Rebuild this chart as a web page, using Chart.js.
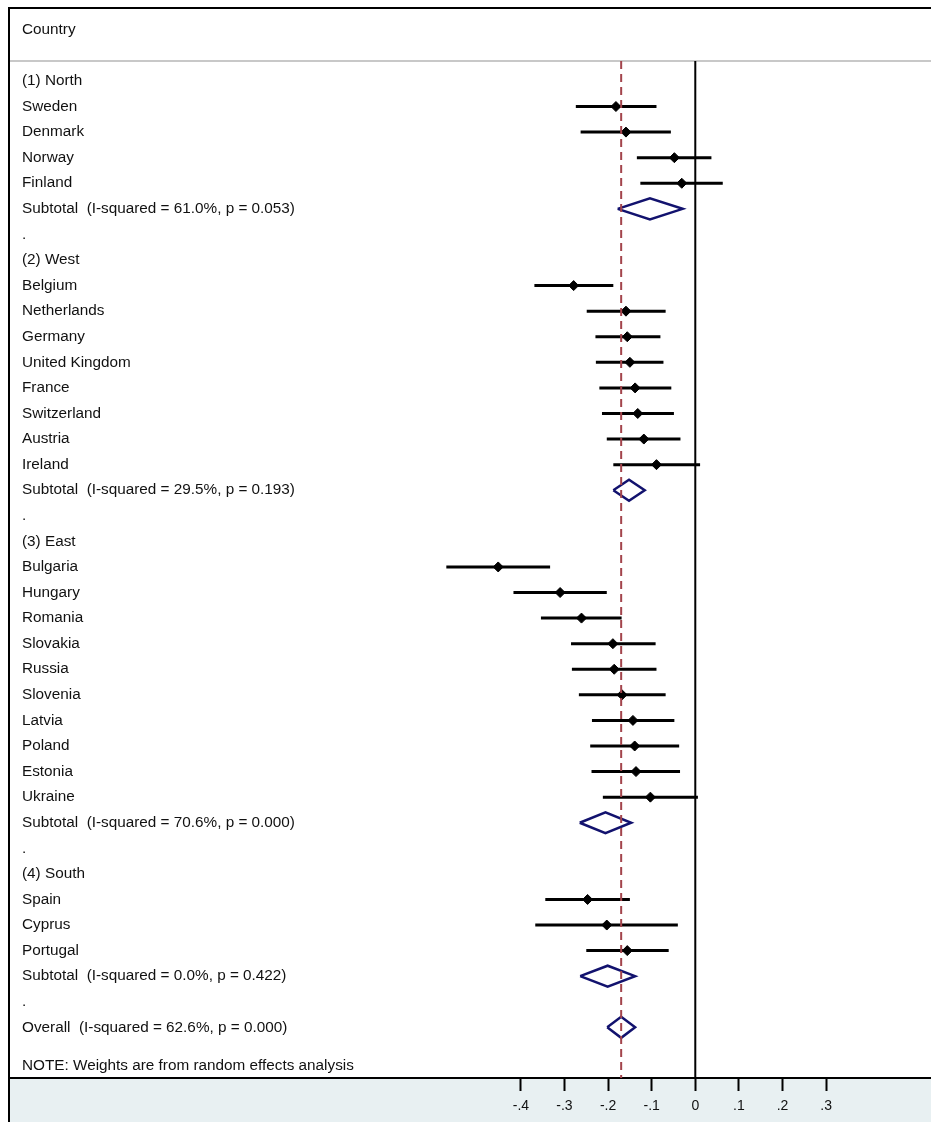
<!DOCTYPE html>
<html>
<head>
<meta charset="utf-8">
<script src="https://cdn.jsdelivr.net/npm/chart.js@4/dist/chart.umd.min.js"></script>
<style>
  body { margin: 0; background: #fff; }
  #wrap { width: 931px; height: 1122px; }
</style>
</head>
<body>
<div id="wrap"><canvas id="forestChart" width="931" height="1122"></canvas></div>
<script>
// Rows of the plot, top to bottom
const rowLabels = [
    '(1) North', 'Sweden', 'Denmark', 'Norway', 'Finland',
    'Subtotal  (I-squared = 61.0%, p = 0.053)', '.',
    '(2) West', 'Belgium', 'Netherlands', 'Germany', 'United Kingdom', 'France', 'Switzerland', 'Austria', 'Ireland',
    'Subtotal  (I-squared = 29.5%, p = 0.193)', '.',
    '(3) East', 'Bulgaria', 'Hungary', 'Romania', 'Slovakia', 'Russia', 'Slovenia', 'Latvia', 'Poland', 'Estonia', 'Ukraine',
    'Subtotal  (I-squared = 70.6%, p = 0.000)', '.',
    '(4) South', 'Spain', 'Cyprus', 'Portugal',
    'Subtotal  (I-squared = 0.0%, p = 0.422)', '.',
    'Overall  (I-squared = 62.6%, p = 0.000)'
];
const noteLabel = 'NOTE: Weights are from random effects analysis';

// Country estimates with 95% CI
const studyNames = ['Sweden', 'Denmark', 'Norway', 'Finland',
    'Belgium', 'Netherlands', 'Germany', 'United Kingdom', 'France', 'Switzerland', 'Austria', 'Ireland',
    'Bulgaria', 'Hungary', 'Romania', 'Slovakia', 'Russia', 'Slovenia', 'Latvia', 'Poland', 'Estonia', 'Ukraine',
    'Spain', 'Cyprus', 'Portugal'];
const studyEst = [-0.182, -0.159, -0.048, -0.031,
    -0.279, -0.159, -0.156, -0.150, -0.138, -0.132, -0.118, -0.089,
    -0.452, -0.310, -0.261, -0.189, -0.186, -0.168, -0.143, -0.139, -0.136, -0.103,
    -0.247, -0.203, -0.156];
const studyLo = [-0.274, -0.263, -0.134, -0.126,
    -0.369, -0.249, -0.229, -0.228, -0.220, -0.214, -0.203, -0.188,
    -0.571, -0.417, -0.354, -0.285, -0.283, -0.267, -0.237, -0.241, -0.238, -0.212,
    -0.344, -0.367, -0.250];
const studyHi = [-0.089, -0.056, 0.037, 0.063,
    -0.188, -0.068, -0.080, -0.073, -0.055, -0.049, -0.034, 0.011,
    -0.333, -0.203, -0.169, -0.091, -0.089, -0.068, -0.048, -0.037, -0.035, 0.006,
    -0.150, -0.040, -0.061];

// Pooled estimates (diamonds)
const pooledNames = [
    'Subtotal  (I-squared = 61.0%, p = 0.053)',
    'Subtotal  (I-squared = 29.5%, p = 0.193)',
    'Subtotal  (I-squared = 70.6%, p = 0.000)',
    'Subtotal  (I-squared = 0.0%, p = 0.422)',
    'Overall  (I-squared = 62.6%, p = 0.000)'
];
const pooledEst = [-0.104, -0.152, -0.206, -0.201, -0.170];
const pooledLo = [-0.178, -0.188, -0.265, -0.264, -0.202];
const pooledHi = [-0.029, -0.116, -0.147, -0.138, -0.138];

const xTicks = [-0.4, -0.3, -0.2, -0.1, 0, 0.1, 0.2, 0.3];

const X_MIN = -1.574, X_MAX = 0.5406;
const Y_MIN = -0.78, Y_MAX = 38.98;
const DIAMOND_HALF = 0.41; // half height of the pooled diamonds, in rows
const FONT = "'Liberation Sans', Arial, sans-serif";

const rowOf = name => rowLabels.indexOf(name);
const overallEst = pooledEst[pooledEst.length - 1];

// Build line data with gaps between segments
const ciData = [];
studyNames.forEach((name, i) => {
    const y = rowOf(name);
    ciData.push({ x: studyLo[i], y: y }, { x: studyHi[i], y: y }, { x: null, y: null });
});
const pointData = studyNames.map((name, i) => ({ x: studyEst[i], y: rowOf(name) }));
const diamondData = [];
pooledNames.forEach((name, i) => {
    const y = rowOf(name);
    diamondData.push(
        { x: pooledLo[i], y: y },
        { x: pooledEst[i], y: y - DIAMOND_HALF },
        { x: pooledHi[i], y: y },
        { x: pooledEst[i], y: y + DIAMOND_HALF },
        { x: pooledLo[i], y: y },
        { x: null, y: null }
    );
});

// Tick positions for the row labels
const rowTicks = rowLabels.map((_, i) => ({ value: i })).concat([{ value: 38.5 }]);
const labelFor = v => (v === 38.5 ? noteLabel : rowLabels[v]);

// Frame, header and bottom band
const framePlugin = {
    id: 'frame',
    beforeDraw(chart) {
        const { ctx, chartArea, width, height } = chart;
        ctx.save();
        ctx.fillStyle = '#ffffff';
        ctx.fillRect(0, 0, width, height);
        ctx.fillStyle = '#e8f0f2';
        ctx.fillRect(9, chartArea.bottom, width - 9, height - chartArea.bottom);
        ctx.strokeStyle = '#c8c8c8';
        ctx.lineWidth = 2;
        ctx.beginPath();
        ctx.moveTo(9, 61);
        ctx.lineTo(width, 61);
        ctx.stroke();
        ctx.strokeStyle = '#000';
        ctx.beginPath();
        ctx.moveTo(width, 8);
        ctx.lineTo(9, 8);
        ctx.lineTo(9, height);
        ctx.stroke();
        ctx.fillStyle = '#111';
        ctx.font = '15.3px ' + FONT;
        ctx.textBaseline = 'middle';
        ctx.fillText('Country', 22, 30);
        ctx.restore();
    }
};

const ctx = document.getElementById('forestChart').getContext('2d');
const chart = new Chart(ctx, {
    type: 'scatter',
    data: {
        datasets: [
            {
                label: 'Overall estimate',
                data: [{ x: overallEst, y: Y_MIN }, { x: overallEst, y: Y_MAX }],
                showLine: true,
                borderColor: '#a3444c',
                borderWidth: 2,
                borderDash: [8, 5],
                pointRadius: 0
            },
            {
                label: 'Estimates',
                data: pointData,
                pointStyle: 'rectRot',
                pointRadius: 5,
                backgroundColor: '#000',
                borderColor: '#000',
                borderWidth: 1
            },
            {
                label: 'CI',
                data: ciData,
                showLine: true,
                spanGaps: false,
                borderColor: '#000',
                borderWidth: 3,
                pointRadius: 0
            },
            {
                label: 'Pooled',
                data: diamondData,
                showLine: true,
                spanGaps: false,
                borderColor: '#12126e',
                borderWidth: 2.5,
                pointRadius: 0
            },
            {
                label: 'No effect',
                data: [{ x: 0, y: Y_MIN }, { x: 0, y: Y_MAX }],
                showLine: true,
                borderColor: '#000',
                borderWidth: 2,
                pointRadius: 0
            }
        ]
    },
    options: {
        responsive: false,
        animation: false,
        layout: { autoPadding: false, padding: { top: 61, left: 9, right: 0, bottom: 0 } },
        plugins: {
            legend: { display: false },
            tooltip: { enabled: false }
        },
        scales: {
            x: {
                type: 'linear',
                position: 'bottom',
                min: X_MIN,
                max: X_MAX,
                afterBuildTicks: scale => { scale.ticks = xTicks.map(v => ({ value: v })); },
                afterFit: scale => { scale.height = 44; },
                grid: {
                    drawOnChartArea: false,
                    drawTicks: true,
                    tickLength: 13,
                    tickColor: '#000',
                    tickWidth: 2
                },
                border: { display: true, color: '#000', width: 2 },
                ticks: {
                    autoSkip: false,
                    maxRotation: 0,
                    padding: 7,
                    color: '#111',
                    font: { family: FONT, size: 14 },
                    callback: v => {
                        const r = Math.round(v * 10);
                        if (r === 0) return '0';
                        return (r < 0 ? '-' : '') + '.' + Math.abs(r);
                    }
                }
            },
            y: {
                type: 'linear',
                position: 'left',
                reverse: true,
                min: Y_MIN,
                max: Y_MAX,
                afterBuildTicks: scale => { scale.ticks = rowTicks.map(t => ({ value: t.value })); },
                afterFit: scale => { scale.width = 0; },
                grid: { display: false, drawTicks: false },
                border: { display: false },
                ticks: {
                    autoSkip: false,
                    mirror: true,
                    padding: 13,
                    color: '#111',
                    font: { family: FONT, size: 15.3 },
                    callback: v => labelFor(v)
                }
            }
        }
    },
    plugins: [framePlugin]
});
</script>
</body>
</html>
